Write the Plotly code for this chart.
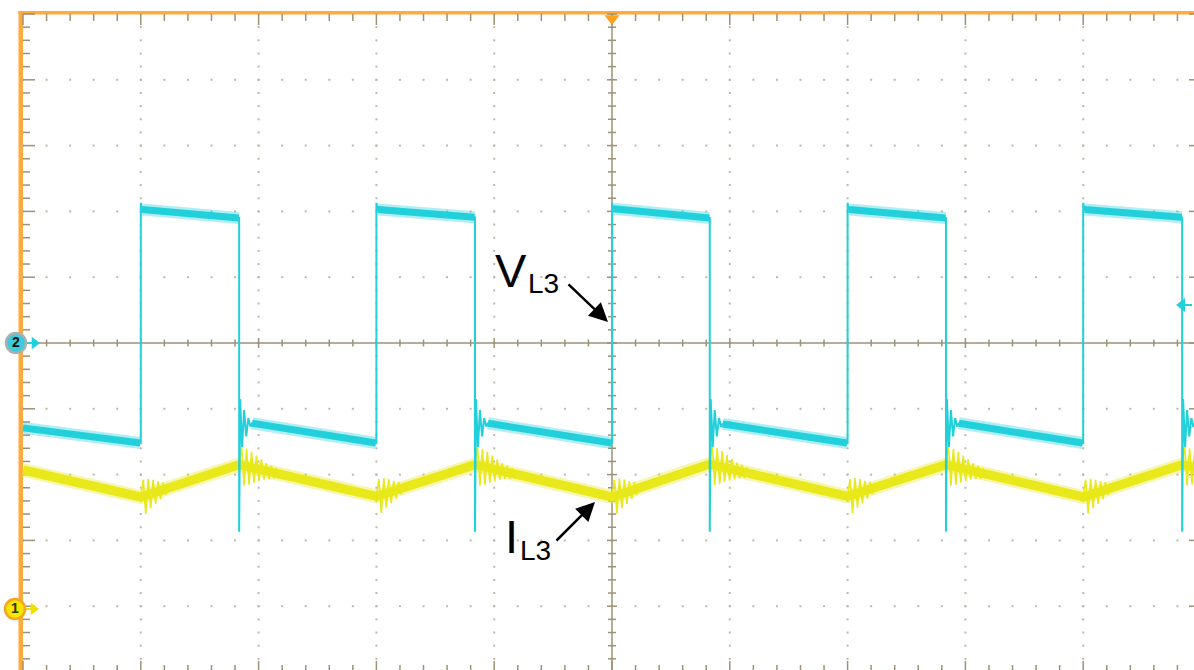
import numpy as np
import plotly.graph_objects as go

# ---- screen geometry (graticule: 10 x 10 divisions) ----
W, H = 1194, 670
L_PX, T_PX = 23, 14          # left / top edge of the graticule in pixels
DIV_X, DIV_Y = 117.8, 65.8    # pixels per division


def dx(p):
    """pixel column -> division coordinate"""
    return (p - L_PX) / DIV_X


def dy(p):
    """pixel row -> division coordinate"""
    return 5.0 - (p - T_PX) / DIV_Y


# ---- waveform data (time and amplitude in divisions) ----
rise_t = [1.0, 3.0, 5.0, 7.0, 9.0]
fall_t = [1.835, 3.837, 5.830, 7.835, 9.840]
end_t = 9.96

# V_L3 (channel 2, cyan)
vl_start = -1.29
vl_high_first = [2.03, 2.03, 2.04, 2.03, 2.03]
vl_high_last = [1.90, 1.91, 1.90, 1.90, 1.91]
vl_low_first = [-1.22, -1.22, -1.23, -1.22, -1.22]
vl_low_last = [-1.52, -1.52, -1.52, -1.52, -1.52]
vl_end = -1.24
vl_rise_peak = 2.13
vl_fall_dip = -2.87
vl_ring_dt = [0.008, 0.025, 0.042, 0.060, 0.078, 0.095]
vl_ring = [-0.85, -1.58, -1.02, -1.42, -1.14, -1.27]

# I_L3 (channel 1, yellow)
il_start = -1.93
il_valley = [-2.34, -2.33, -2.34, -2.33, -2.34]
il_peak = [-1.85, -1.85, -1.84, -1.85, -1.85]
il_end = -1.89
il_ring_step = 0.021
il_ring_fall = [0.30, -0.30, 0.27, -0.27, 0.24, -0.22, 0.20, -0.18,
                0.16, -0.14, 0.12, -0.11, 0.10, -0.09, 0.08, -0.07]
il_ring_rise = [0.25, -0.28, 0.24, -0.22, 0.20, -0.18, 0.15, -0.13,
                0.11, -0.09, 0.07, -0.06]

CYAN = "#22d0dc"
YELLOW = "#e8e81a"
ORANGE = "#ffaa3c"
GRID_DOT = "#bdb8a6"
AXIS = "#9b9277"
FONT = "Liberation Sans, Arial, sans-serif"

fig = go.Figure()

# ---- screen frame (orange left and top edges) ----
frame = [
    dict(type="rect", xref="x", yref="y",
         x0=dx(18.5), x1=dx(23), y0=dy(H), y1=dy(11),
         fillcolor=ORANGE, line=dict(width=0), layer="below"),
    dict(type="rect", xref="x", yref="y",
         x0=dx(18.5), x1=dx(W), y0=dy(14.5), y1=dy(11),
         fillcolor=ORANGE, line=dict(width=0), layer="below"),
]

# ---- graticule dots ----
gx, gy = [], []
minor = np.arange(-25, 26) * 0.2
for xv in [1, 2, 3, 4, 6, 7, 8, 9]:
    gx += [xv] * len(minor)
    gy += list(minor)
for yv in [-4, -3, -2, -1, 1, 2, 3, 4]:
    xs_m = np.arange(0, 51) * 0.2
    gx += list(xs_m)
    gy += [yv] * len(xs_m)
fig.add_trace(go.Scatter(x=gx, y=gy, mode="markers",
                         marker=dict(symbol="square", size=2, color=GRID_DOT),
                         hoverinfo="skip", showlegend=False))

# ---- centre cross and border ticks ----
tx, ty = [], []
tx += [0, 10, None, 5, 5, None]
ty += [0, 0, None, -5, 5, None]
for k in range(0, 51):
    xv = k * 0.2
    major = (k % 5 == 0)
    h = (5 if major else 3.5) / DIV_Y
    tx += [xv, xv, None]
    ty += [-h, h, None]
    lt = (11 if major else 7) / DIV_Y
    tx += [xv, xv, None, xv, xv, None]
    ty += [5, 5 - lt, None, -5, -5 + lt, None]
for k in range(-25, 26):
    yv = k * 0.2
    major = (k % 5 == 0)
    w = (5 if major else 4) / DIV_X
    tx += [5 - w, 5 + w, None]
    ty += [yv, yv, None]
    lt = (12 if major else 7) / DIV_X
    tx += [0, lt, None, 10, 10 - lt, None]
    ty += [yv, yv, None, yv, yv, None]
fig.add_trace(go.Scatter(x=tx, y=ty, mode="lines",
                         line=dict(color=AXIS, width=1.5),
                         hoverinfo="skip", showlegend=False))

# ---- I_L3 trace ----
il_x = [0.0]
il_y = [il_start]
for k in range(5):
    il_x += [rise_t[k], fall_t[k]]
    il_y += [il_valley[k], il_peak[k]]
il_x.append(end_t)
il_y.append(il_end)
fig.add_trace(go.Scatter(x=il_x, y=il_y, mode="lines",
                         line=dict(color=YELLOW, width=14), opacity=0.35,
                         hoverinfo="skip", showlegend=False))
fig.add_trace(go.Scatter(x=il_x, y=il_y, mode="lines",
                         line=dict(color=YELLOW, width=9),
                         hoverinfo="skip", showlegend=False))

rx, ry = [], []
for edges, ring in ((rise_t, il_ring_rise), (fall_t, il_ring_fall)):
    for e in edges:
        t = e + il_ring_step * np.arange(len(ring) + 1)
        base = np.interp(t, il_x, il_y)
        rx += list(t) + [None]
        ry += [base[0]] + list(base[1:] + np.array(ring)) + [None]
fig.add_trace(go.Scatter(x=rx, y=ry, mode="lines",
                         line=dict(color=YELLOW, width=1.6),
                         hoverinfo="skip", showlegend=False))

# ---- V_L3 trace: thin full path plus thick level bands ----
vx, vy = [0.0], [vl_start]
bx, by = [0.0], [vl_start]
for k in range(5):
    r, f = rise_t[k], fall_t[k]
    vx += [r, r, r + 0.012, f, f]
    vy += [vl_low_last[k], vl_rise_peak, vl_high_first[k], vl_high_last[k], vl_fall_dip]
    vx += [f + d for d in vl_ring_dt]
    vy += vl_ring
    vx.append(f + 0.11)
    vy.append(vl_low_first[k])
    bx += [r - 0.004, None, r + 0.012, f - 0.004, None, f + 0.11]
    by += [vl_low_last[k], None, vl_high_first[k], vl_high_last[k], None, vl_low_first[k]]
vx.append(end_t)
vy.append(vl_end)
bx.append(end_t)
by.append(vl_end)
fig.add_trace(go.Scatter(x=vx, y=vy, mode="lines",
                         line=dict(color=CYAN, width=2),
                         hoverinfo="skip", showlegend=False))
fig.add_trace(go.Scatter(x=bx, y=by, mode="lines",
                         line=dict(color=CYAN, width=12), opacity=0.35,
                         hoverinfo="skip", showlegend=False))
fig.add_trace(go.Scatter(x=bx, y=by, mode="lines",
                         line=dict(color=CYAN, width=7),
                         hoverinfo="skip", showlegend=False))

# ---- channel reference markers on the left edge ----
fig.add_trace(go.Scatter(
    x=[dx(24), dx(32)], y=[dy(343), dy(343)], mode="lines",
    line=dict(color=CYAN, width=2), hoverinfo="skip", showlegend=False))
fig.add_trace(go.Scatter(
    x=[dx(24), dx(31)], y=[dy(609), dy(609)], mode="lines",
    line=dict(color="#f0e000", width=2), hoverinfo="skip", showlegend=False))
fig.add_trace(go.Scatter(
    x=[dx(34.5), dx(33.5)], y=[dy(343), dy(609)], mode="markers",
    marker=dict(symbol="triangle-right", size=11, color=[CYAN, "#f0e000"]),
    hoverinfo="skip", showlegend=False))
fig.add_trace(go.Scatter(
    x=[dx(16), dx(15)], y=[dy(343), dy(609)], mode="markers+text",
    text=["<b>2</b>", "<b>1</b>"], textposition="middle center",
    textfont=dict(family=FONT, size=14, color=["#111111", "#333300"]),
    marker=dict(size=20, color=["#3ccbdc", "#f7e600"],
                line=dict(color=["#a9b0b0", "#f6a524"], width=2.5)),
    hoverinfo="skip", showlegend=False))

# ---- trigger position (top) and trigger level (right) ----
fig.add_trace(go.Scatter(
    x=[5.0], y=[dy(18.5)], mode="markers",
    marker=dict(symbol="triangle-down", size=13, color="#ff9f1c"),
    hoverinfo="skip", showlegend=False))
fig.add_trace(go.Scatter(
    x=[dx(1184), dx(1192)], y=[dy(305), dy(305)], mode="lines",
    line=dict(color=CYAN, width=2), hoverinfo="skip", showlegend=False))
fig.add_trace(go.Scatter(
    x=[dx(1182)], y=[dy(305)], mode="markers",
    marker=dict(symbol="triangle-left", size=12, color=CYAN),
    hoverinfo="skip", showlegend=False))

annotations = [
    dict(x=dx(493), y=dy(270), text="V",
         xanchor="left", yanchor="middle", showarrow=False,
         font=dict(family=FONT, size=47, color="black")),
    dict(x=dx(526), y=dy(283), text="L3",
         xanchor="left", yanchor="middle", showarrow=False,
         font=dict(family=FONT, size=28, color="black")),
    dict(x=dx(503), y=dy(536), text="I",
         xanchor="left", yanchor="middle", showarrow=False,
         font=dict(family=FONT, size=47, color="black")),
    dict(x=dx(518), y=dy(550), text="L3",
         xanchor="left", yanchor="middle", showarrow=False,
         font=dict(family=FONT, size=28, color="black")),
    dict(x=dx(608), y=dy(322), text="",
         showarrow=True, ax=-41, ay=-39, arrowhead=2, arrowsize=1.5,
         arrowwidth=2.5, arrowcolor="black", standoff=0),
    dict(x=dx(595), y=dy(502), text="",
         showarrow=True, ax=-40, ay=40, arrowhead=2, arrowsize=1.5,
         arrowwidth=2.5, arrowcolor="black", standoff=0),
]

fig.update_layout(
    width=W, height=H,
    margin=dict(l=0, r=0, t=0, b=0, pad=0),
    paper_bgcolor="white", plot_bgcolor="white",
    xaxis=dict(range=[dx(0), dx(W)], showgrid=False, zeroline=False,
               showticklabels=False, ticks="", showline=False, fixedrange=True),
    yaxis=dict(range=[dy(H), dy(0)], showgrid=False, zeroline=False,
               showticklabels=False, ticks="", showline=False, fixedrange=True),
    shapes=frame,
    annotations=annotations,
    showlegend=False,
)

fig.write_html("out.html", config={"displayModeBar": False})
